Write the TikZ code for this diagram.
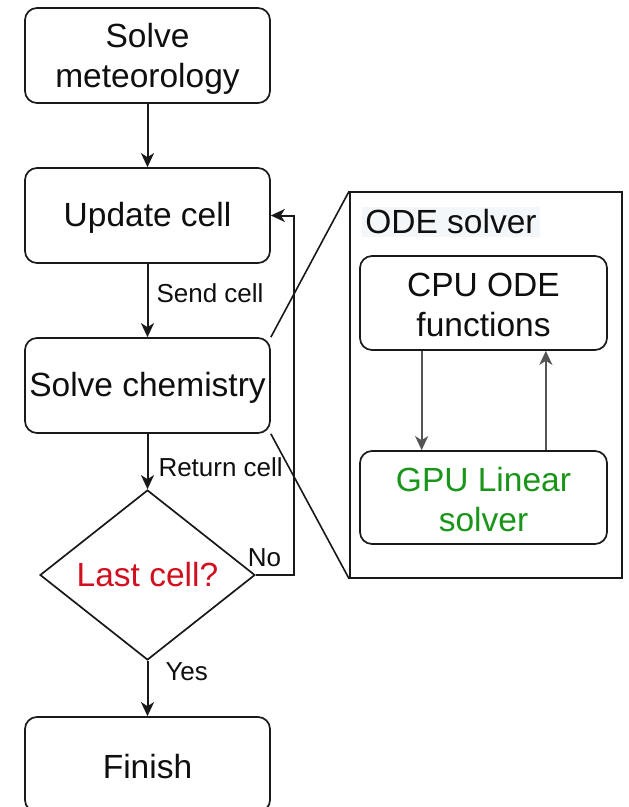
\documentclass[tikz,border=0pt]{standalone}
\usepackage{fontspec}
\setmainfont{Liberation Sans}
\usetikzlibrary{arrows.meta,shapes.geometric,calc}

\definecolor{ink}{RGB}{25,25,25}
\definecolor{txt}{RGB}{15,15,15}
\definecolor{redtxt}{RGB}{210,15,30}
\definecolor{greentxt}{RGB}{25,150,25}
\definecolor{innerline}{RGB}{85,85,85}
\definecolor{titlebg}{RGB}{244,247,250}

\tikzset{
  stepbox/.style={draw=ink, line width=1.7pt, rounded corners=12pt, fill=white,
    minimum width=245pt, minimum height=95pt, inner sep=0pt, align=center,
    text=txt, font=\fontsize{33.5}{40}\selectfont},
  decision/.style={draw=ink, line width=1.7pt, shape=diamond, aspect=1.265,
    minimum width=215pt, minimum height=170pt, inner sep=0pt,
    text=redtxt, font=\fontsize{33.5}{40}\selectfont},
  flow/.style={draw=ink, line width=2pt,
    -{Stealth[length=14pt, width=13pt, inset=4pt]}},
  innerflow/.style={draw=innerline, line width=2.2pt,
    -{Stealth[length=14pt, width=13pt, inset=4pt]}},
  edgelabel/.style={inner sep=0pt, text=txt, font=\fontsize{26}{30}\selectfont},
  plainline/.style={draw=ink, line width=1.6pt},
}

\begin{document}
\begin{tikzpicture}[x=1pt, y=-1pt]
  \useasboundingbox (0,0) rectangle (629,807);
  \fill[white] (0,0) rectangle (629,807);

  % main flow
  \node[stepbox] (met)  at (147.5,55.5)  {\rule{0pt}{30pt}Solve\\meteorology};
  \node[stepbox] (upd)  at (147.5,215.5) {\rule{0pt}{28pt}Update cell};
  \node[stepbox] (chem) at (147.5,385.5) {\rule{0pt}{28pt}Solve chemistry};
  \node[decision] (dec) at (147.5,575)   {Last cell?};
  \node[stepbox] (fin)  at (147.5,764.5) {\rule{0pt}{28pt}Finish};

  % detail panel of the chemistry solver
  \node[draw=ink, line width=1.7pt, minimum width=272pt, minimum height=386pt,
        inner sep=0pt] (ode) at (486,385) {};
  \node[fill=titlebg, inner xsep=3pt, inner ysep=3pt, text=txt,
        font=\fontsize{33.5}{40}\selectfont] (odetitle) at (451,222) {ODE solver};
  \node[stepbox, minimum width=247pt, minimum height=94pt] (cpu) at (483.5,303)
        {\rule{0pt}{28pt}CPU ODE\\functions};
  \node[stepbox, minimum width=247pt, minimum height=93pt, text=greentxt] (gpu)
        at (483.5,497.5) {\rule{0pt}{28pt}GPU Linear\\solver};

  % connectors
  \draw[flow] (met) -- (upd);
  \draw[flow] (upd) -- node[edgelabel, pos=0.4, anchor=west, xshift=8pt] {Send cell} (chem);
  \draw[flow] (chem) -- node[edgelabel, pos=0.61, anchor=west, xshift=10pt] {Return cell} (dec.north);
  \draw[flow] (dec.south) -- node[edgelabel, pos=0.2, anchor=west, xshift=17pt] {Yes} (fin);
  \draw[flow] (dec.east) node[edgelabel, anchor=west, xshift=-9pt, yshift=17pt] {No}
        -- ++(38,0) |- (upd.east);

  % zoom lines towards the panel
  \draw[plainline] (chem.north east) -- (ode.north west);
  \draw[plainline] (chem.south east) -- (ode.south west);

  % exchange between CPU and GPU parts
  \draw[innerflow] ([xshift=62.5pt]cpu.south west) -- ([xshift=62.5pt]gpu.north west);
  \draw[innerflow] ([xshift=-62pt]gpu.north east) -- ([xshift=-62pt]cpu.south east);
\end{tikzpicture}
\end{document}
